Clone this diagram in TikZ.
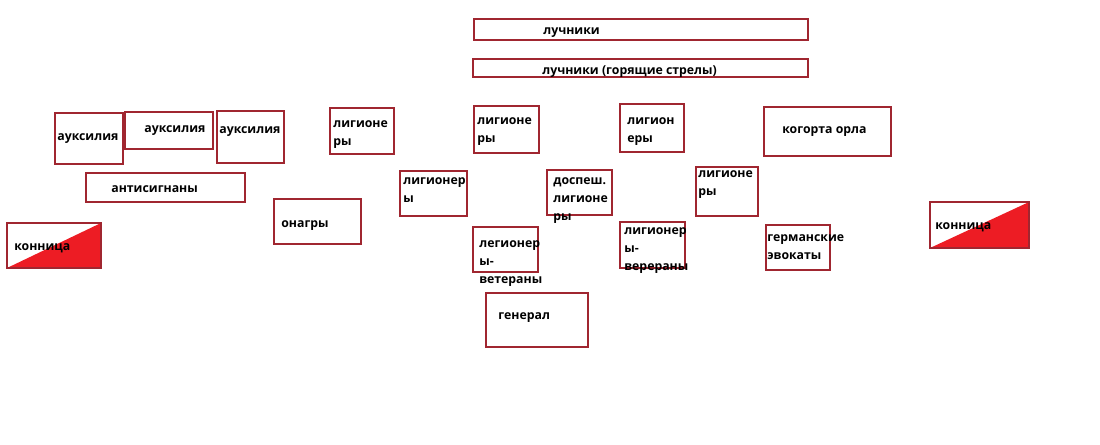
\documentclass[tikz,border=0pt]{standalone}
\usepackage{fontspec}
\setmainfont{Open Sans}
\definecolor{boxred}{RGB}{160,38,48}
\definecolor{paintred}{RGB}{237,28,36}

\begin{document}
\begin{tikzpicture}[x=0.02cm,y=-0.02cm,
    box/.style={draw=boxred,line width=0.75pt},
    half/.style={fill=paintred},
    lbl/.style={anchor=north west,inner sep=0,align=left,
                font=\fontsize{7}{10.2}\selectfont\bfseries}]
    \useasboundingbox (0,0) rectangle (1100,444);
    % archers
    \draw[box] (474,19) rectangle (808,40);
    \draw[box] (473,59) rectangle (808,77);
    \node[lbl] (archers) at (543,21.4) {\strut лучники};
    \node[lbl] (firearchers) at (542,61.4) {\strut лучники (горящие стрелы)};
    % left wing
    \draw[box] (55,113) rectangle (123,164);
    \draw[box] (125,112) rectangle (213,149);
    \draw[box] (217,111) rectangle (284,163);
    \draw[box] (86,173) rectangle (245,202);
    \node[lbl] (aux1) at (57,127.4) {\strut ауксилия};
    \node[lbl] (aux2) at (144,119.4) {\strut ауксилия};
    \node[lbl] (aux3) at (219,120.4) {\strut ауксилия};
    \node[lbl] (antisig) at (111,179.4) {\strut антисигнаны};
    \fill[half] (7,268) -- (101,223) -- (101,268) -- cycle;
    \draw[box] (7,223) rectangle (101,268);
    \node[lbl] (cavleft) at (14,237.4) {\strut конница};
    \draw[box] (274,199) rectangle (361,244);
    \node[lbl] (onager) at (281,214.4) {\strut онагры};
    % legions
    \draw[box] (330,108) rectangle (394,154);
    \node[lbl] (leg1) at (333,114.4) {\strut лигионе\\ры};
    \draw[box] (400,171) rectangle (467,216);
    \node[lbl] (leg2) at (403,171.4) {\strut лигионер\\ы};
    \draw[box] (474,106) rectangle (539,153);
    \node[lbl] (leg3) at (477,111.4) {\strut лигионе\\ры};
    \draw[box] (547,170) rectangle (612,215);
    \node[lbl] (armored) at (553,171.4) {\strut доспеш.\\лигионе\\ры};
    \draw[box] (473,227) rectangle (538,272);
    \node[lbl] (vet1) at (479,234.4) {\strut легионер\\ы-\\ветераны};
    \draw[box] (486,293) rectangle (588,347);
    \node[lbl] (general) at (498,306.4) {\strut генерал};
    \draw[box] (620,104) rectangle (684,152);
    \node[lbl] (leg4) at (627,111.4) {\strut лигион\\еры};
    \draw[box] (696,167) rectangle (758,216);
    \node[lbl] (leg5) at (698,164.4) {\strut лигионе\\ры};
    \draw[box] (620,222) rectangle (685,268);
    \node[lbl] (vet2) at (624,221.4) {\strut лигионер\\ы-\\верераны};
    % right wing
    \draw[box] (764,107) rectangle (891,156);
    \node[lbl] (eagle) at (782,120.4) {\strut когорта орла};
    \draw[box] (766,225) rectangle (830,270);
    \node[lbl] (evoc) at (767,228.4) {\strut германские\\эвокаты};
    \fill[half] (930,248) -- (1029,202) -- (1029,248) -- cycle;
    \draw[box] (930,202) rectangle (1029,248);
    \node[lbl] (cavright) at (935,216.4) {\strut конница};
\end{tikzpicture}
\end{document}
